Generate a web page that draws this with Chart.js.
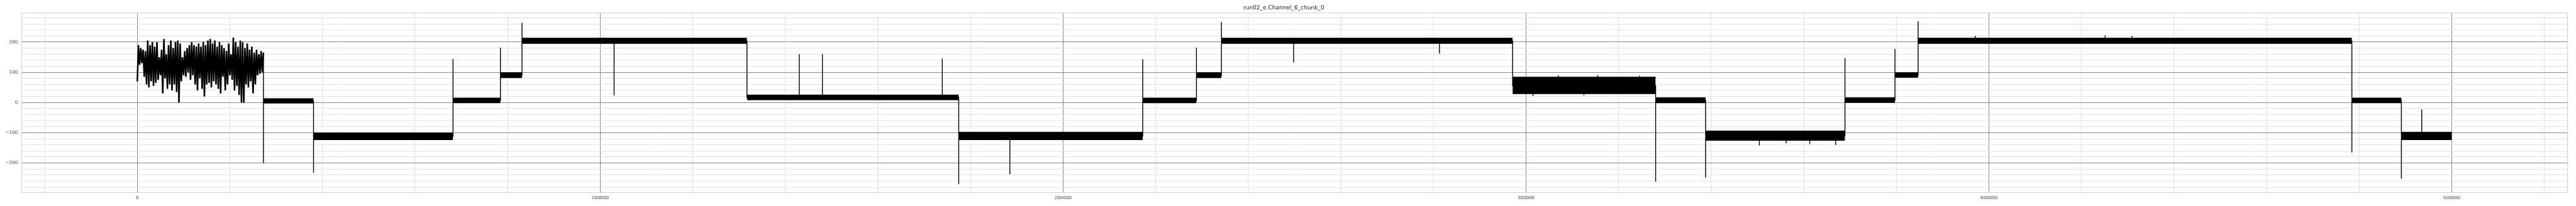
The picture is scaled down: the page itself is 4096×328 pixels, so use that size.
<!DOCTYPE html>
<html>
<head>
<meta charset="utf-8">
<script src="https://cdn.jsdelivr.net/npm/chart.js@4/dist/chart.umd.min.js"></script>
<style>
  html, body { margin: 0; padding: 0; background: #fff; }
</style>
</head>
<body>
<canvas id="chart" width="4096" height="328"></canvas>
<script>
// run02_e.Channel_6_chunk_0 - sample index vs signal level

const chartTitle = 'run02_e.Channel_6_chunk_0';

// axis ticks
const xTickLabels = [0, 100000, 200000, 300000, 400000, 500000];
const yTickLabels = [-200, -100, 0, 100, 200];
const xMinorStep = 20000;
const yMinorStep = 20;

// noisy start of the record, read peak by peak
const noiseStart = 0;
const noiseStep = 250;
const noiseValues = [
  70, 190, 125, 180, 130, 175, 85,
  170, 60, 205, 50, 190, 70, 200, 55, 185, 65, 200,
  75, 150, 90, 175, 30,
  210, 80, 160, 45, 190, 60, 205,
  40, 180, 60, 200, 35, 205, 0, 195, 70,
  150, 90, 170, 85, 180, 100, 190, 75,
  200, 90, 190, 60, 185, 40, 195, 80,
  185, 45, 200, 20, 190, 60, 205, 65, 210, 50, 195,
  70, 205, 60, 185, 45, 200, 30, 190, 85, 180, 40, 170, 60, 195,
  90, 160, 75, 215, 40, 200, 55, 185, 25, 205, 0, 200, 0, 180,
  60, 195, 50, 175, 70, 185, 30, 165, 60, 175, 90, 160, 95, 170, 100, 165
];

// flat levels (noise band low / high)
const segStart = [27250, 38070, 68200, 78450, 83100, 131700, 177450, 217200, 228800, 234200, 297100, 328000, 338800, 368900, 379700, 384700, 478400, 489100];
const segEnd   = [38070, 68200, 78450, 83100, 131700, 177450, 217200, 228800, 234200, 297100, 328000, 338800, 368900, 379700, 384700, 478400, 489100, 500000];
const segLow   = [-3, -124, -2, 81, 194, 8, -124, -2, 81, 194, 28, -2, -126, -1, 82, 194, -2, -124];
const segHigh  = [13, -100, 15, 99, 213, 25, -98, 15, 99, 213, 84, 16, -94, 16, 99, 213, 15, -98];

// spikes: position and tip value
const spikeX = [27250, 38070, 68200, 78450, 83100, 103000, 143000, 148000, 173900, 177450, 188500, 217200, 228800, 234200, 249800, 281300,
  301500, 307000, 312500, 315500, 324500,
  328000, 338800, 350400, 356200, 361300, 366900, 368900, 379700, 384700, 397100, 425100, 430900, 478400, 489100, 493500];
const spikeY = [-200, -232, 144, 181, 264, 24, 160, 160, 145, -270, -237, 143, 181, 266, 133, 162,
  22, 90, 24, 91, 89,
  -262, -248, -142, -135, -137, -140, 147, 177, 269, 220, 222, 220, -165, -252, -23];

const majorGrid = '#8a8a8a';
const minorGrid = '#e4e4e4';
const textColor = '#3c3c3c';

// build the trace line through the flat levels
const noiseTrace = noiseValues.map((v, i) => ({ x: noiseStart + i * noiseStep, y: v }));
const trace = [noiseTrace[noiseTrace.length - 1]];
segStart.forEach((s, i) => {
  const mid = (segLow[i] + segHigh[i]) / 2;
  const e = segEnd[i];
  let started = false;
  spikeX.forEach((sx, k) => {
    if (sx < s || sx >= e) return;
    if (sx === s) {
      trace.push({ x: sx, y: spikeY[k] });
    } else {
      if (!started) trace.push({ x: s, y: mid });
      trace.push({ x: sx, y: mid }, { x: sx, y: spikeY[k] });
    }
    trace.push({ x: sx, y: mid });
    started = true;
  });
  if (!started) trace.push({ x: s, y: mid });
  trace.push({ x: e, y: mid });
});

const bandSets = segStart.map((s, i) => ({
  data: [{ x: s, y: segHigh[i] }, { x: segEnd[i], y: segHigh[i] }],
  showLine: true,
  borderColor: '#000',
  borderWidth: 1,
  pointRadius: 0,
  fill: { target: { value: segLow[i] }, above: '#000', below: '#000' }
}));

const xGrid = [];
for (let v = -20000; v <= 520000; v += xMinorStep) xGrid.push(v);
const yGrid = [];
for (let v = -280; v <= 280; v += yMinorStep) yGrid.push(v);

const tickFont = { family: 'DejaVu Sans', size: 7.2 };

const framePlugin = {
  id: 'frame',
  beforeDatasetsDraw(chart) {
    const a = chart.chartArea, ctx = chart.ctx;
    ctx.save();
    ctx.strokeStyle = '#d2d2d2';
    ctx.lineWidth = 1;
    ctx.strokeRect(a.left, a.top, a.right - a.left, a.bottom - a.top);
    ctx.restore();
  }
};

new Chart(document.getElementById('chart'), {
  type: 'scatter',
  data: {
    datasets: bandSets.concat([{
      data: noiseTrace,
      showLine: true,
      borderColor: '#000',
      borderWidth: 2.5,
      pointRadius: 0,
      fill: false,
      tension: 0
    }, {
      data: trace,
      showLine: true,
      borderColor: '#000',
      borderWidth: 1.4,
      pointRadius: 0,
      fill: false,
      tension: 0
    }])
  },
  options: {
    responsive: false,
    animation: false,
    devicePixelRatio: 1,
    layout: { padding: { top: 0, right: 13.4, bottom: 0, left: 0 } },
    plugins: {
      legend: { display: false },
      tooltip: { enabled: false },
      title: {
        display: true,
        text: chartTitle,
        color: '#262626',
        font: { family: 'DejaVu Sans', size: 9, weight: 'normal' },
        padding: { top: 7.5, bottom: 2.4 }
      }
    },
    scales: {
      x: {
        type: 'linear',
        min: -25000,
        max: 525000,
        afterBuildTicks: s => { s.ticks = xGrid.map(v => ({ value: v })); },
        afterFit: s => { s.height = 21.5; },
        border: { display: false },
        grid: {
          drawTicks: false,
          lineWidth: 1,
          color: c => (c.tick && c.tick.value % 100000 === 0) ? majorGrid : minorGrid
        },
        ticks: {
          autoSkip: false,
          maxRotation: 0,
          padding: 4,
          color: textColor,
          font: tickFont,
          callback: v => xTickLabels.includes(v) ? String(v) : ''
        }
      },
      y: {
        type: 'linear',
        min: -297.6,
        max: 296.1,
        afterBuildTicks: s => { s.ticks = yGrid.map(v => ({ value: v })); },
        afterFit: s => { s.width = 34.3; },
        border: { display: false },
        grid: {
          drawTicks: false,
          lineWidth: 1,
          color: c => (c.tick && c.tick.value % 100 === 0) ? majorGrid : minorGrid
        },
        ticks: {
          autoSkip: false,
          padding: 6,
          color: textColor,
          font: tickFont,
          callback: v => yTickLabels.includes(v) ? String(v).replace('-', '\u2212') : ''
        }
      }
    }
  },
  plugins: [framePlugin]
});
</script>
</body>
</html>
